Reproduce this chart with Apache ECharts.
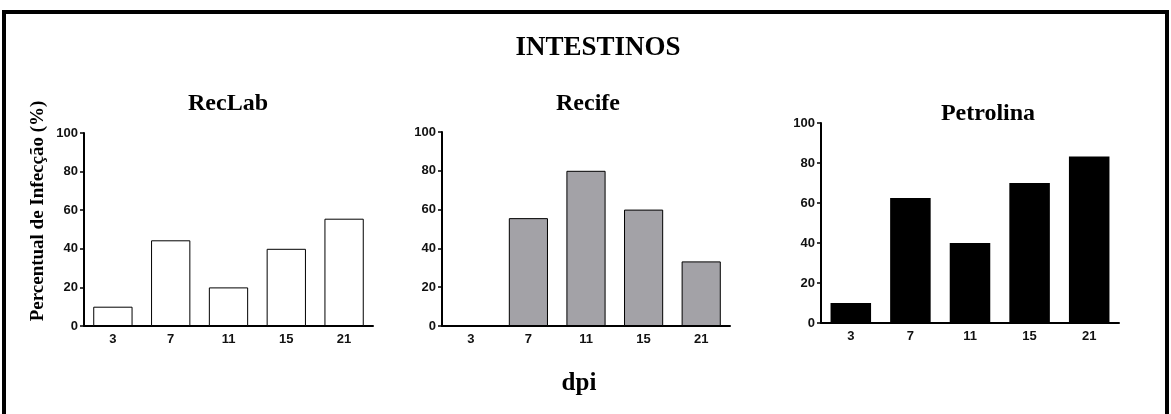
<!DOCTYPE html>
<html>
<head>
<meta charset="utf-8">
<script src="https://cdn.jsdelivr.net/npm/echarts@6/dist/echarts.min.js"></script>
<style>
  html, body { margin: 0; padding: 0; background: #fff; }
  #chart { width: 1171px; height: 414px; }
</style>
</head>
<body>
<div id="chart"></div>
<script>
// dpi categories, shared by all three panels
const dpiLabels = ['3', '7', '11', '15', '21'];

// infection percentage per panel
const recLabValues = [10, 44.4, 20, 40, 55.6];
const recifeValues = [0, 55.6, 80, 60, 33.3];
const petrolinaValues = [10, 62.5, 40, 70, 83.3];

const panelNames = ['RecLab', 'Recife', 'Petrolina'];

const chart = echarts.init(document.getElementById('chart'));

const serif = '"Liberation Serif", "DejaVu Serif", serif';
const sans = '"Liberation Sans", Arial, sans-serif';

// grid boxes (px) for the three panels
const grids = [
  { left: 84, top: 133, width: 289, height: 193 },
  { left: 442, top: 132, width: 288, height: 194 },
  { left: 821, top: 123, width: 298, height: 200 }
];

const barColors = ['#ffffff', '#a3a2a7', '#000000'];
const seriesData = [recLabValues, recifeValues, petrolinaValues];

const axisLine = { lineStyle: { color: '#000', width: 2 } };

// title padding is 5px, so centres are shifted back by 5
const subTitle = (text, x, y) => ({
  text: text, left: x - 5, top: y, textAlign: 'center',
  textStyle: { fontFamily: serif, fontWeight: 'bold', fontSize: 24, color: '#000' }
});

chart.setOption({
  animation: false,
  title: [
    { text: 'INTESTINOS', left: 593, top: 30, textAlign: 'center',
      textStyle: { fontFamily: serif, fontWeight: 'bold', fontSize: 27, color: '#000' } },
    subTitle(panelNames[0], 228, 87),
    subTitle(panelNames[1], 588, 87),
    subTitle(panelNames[2], 988, 97),
    { text: 'dpi', left: 574, top: 366, textAlign: 'center',
      textStyle: { fontFamily: serif, fontWeight: 'bold', fontSize: 25, color: '#000' } }
  ],
  graphic: [
    {
      type: 'rect',
      shape: { x: 4, y: 12, width: 1163, height: 440 },
      style: { fill: 'none', stroke: '#000', lineWidth: 4 }
    },
    {
      type: 'text',
      x: 38,
      y: 211,
      rotation: Math.PI / 2,
      style: {
        text: 'Percentual de Infecção (%)',
        fontFamily: serif, fontWeight: 'bold', fontSize: 19, fill: '#000',
        align: 'center', verticalAlign: 'middle'
      }
    }
  ],
  grid: grids,
  xAxis: grids.map((g, i) => ({
    type: 'category',
    gridIndex: i,
    data: dpiLabels,
    axisLine: axisLine,
    axisTick: { alignWithLabel: true, length: 4, lineStyle: { color: '#000', width: 1.5 } },
    axisLabel: { color: '#111', fontFamily: sans, fontWeight: 'bold', fontSize: 13, margin: 7 }
  })),
  yAxis: grids.map((g, i) => ({
    type: 'value',
    gridIndex: i,
    min: 0,
    max: 100,
    interval: 20,
    splitLine: { show: false },
    axisLine: { show: true, lineStyle: { color: '#000', width: 2 } },
    axisTick: { show: true, length: 4, lineStyle: { color: '#000', width: 1.5 } },
    axisLabel: { color: '#111', fontFamily: sans, fontWeight: 'bold', fontSize: 13, margin: 6 }
  })),
  series: seriesData.map((vals, i) => ({
    type: 'bar',
    xAxisIndex: i,
    yAxisIndex: i,
    data: vals,
    barCategoryGap: '32%',
    itemStyle: { color: barColors[i], borderColor: '#000', borderWidth: i === 2 ? 0 : 1 }
  }))
});
</script>
</body>
</html>
